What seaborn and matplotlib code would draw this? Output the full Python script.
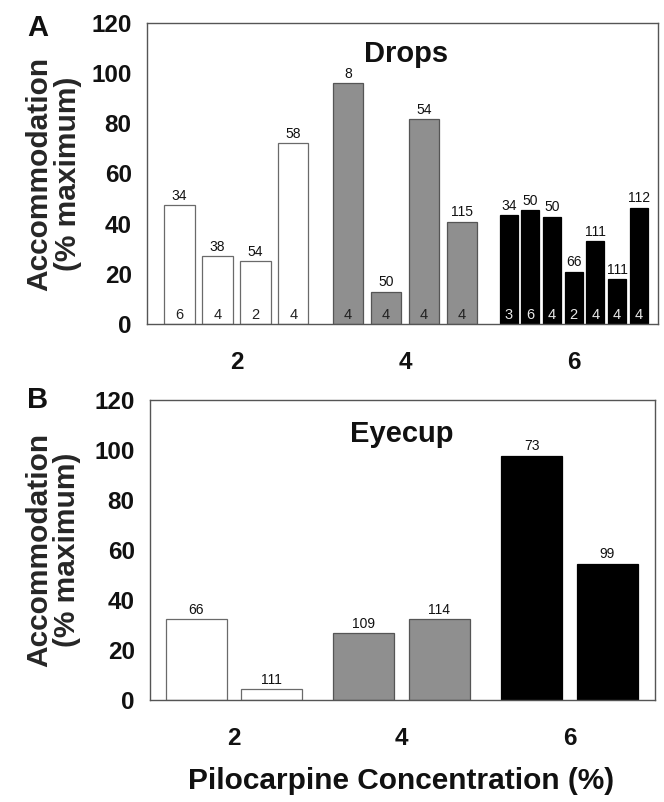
import numpy as np
import pandas as pd
import matplotlib
matplotlib.use("Agg")
import matplotlib.pyplot as plt
import seaborn as sns

# ---------------- data ----------------
drops_conc = [2, 2, 2, 2, 4, 4, 4, 4, 6, 6, 6, 6, 6, 6, 6]
drops_vals = [47.4, 27.2, 25.0, 72.0, 96.1, 12.9, 81.6, 40.8,
              43.4, 45.3, 42.8, 20.9, 32.9, 18.0, 46.4]
drops_n_top = ["34", "38", "54", "58", "8", "50", "54", "115",
               "34", "50", "50", "66", "111", "111", "112"]
drops_n_bottom = ["6", "4", "2", "4", "4", "4", "4", "4",
                  "3", "6", "4", "2", "4", "4", "4"]

eyecup_conc = [2, 2, 4, 4, 6, 6]
eyecup_vals = [32.3, 4.4, 26.7, 32.4, 97.7, 54.5]
eyecup_n = ["66", "111", "109", "114", "73", "99"]

conc_ticks = [2, 4, 6]
y_ticks = [0, 20, 40, 60, 80, 100, 120]

# ---------------- style ----------------
sns.set_style("white")
plt.rcParams["font.family"] = ["Liberation Sans", "DejaVu Sans"]

FILL = {2: "#ffffff", 4: "#8f8f8f", 6: "#000000"}
EDGE = {2: "#6a6a6a", 4: "#555555", 6: "#000000"}
NCOL = {2: "#222222", 4: "#222222", 6: "#e8e8e8"}
SPINE = "#555555"

fig = plt.figure(figsize=(6.64, 8.02), dpi=100)
axA = fig.add_axes([147 / 664, 1 - 324 / 802, 511 / 664, 301 / 802])
axB = fig.add_axes([150 / 664, 1 - 700 / 802, 505 / 664, 300 / 802])


def positions(conc_list, spacing_fn):
    conc = np.asarray(conc_list, dtype=float)
    pos = np.zeros_like(conc)
    for c in np.unique(conc):
        idx = np.where(conc == c)[0]
        k = len(idx)
        s = spacing_fn(k)
        pos[idx] = c + (np.arange(k) - (k - 1) / 2) * s
    return pos


def draw_panel(ax, conc, vals, spacing_fn, width_fn, top_labels, bottom_labels=None):
    pos = positions(conc, spacing_fn)
    df = pd.DataFrame({"conc": conc, "pos": pos, "val": vals})
    for c, sub in df.groupby("conc"):
        sns.barplot(data=sub, x="pos", y="val", native_scale=True, orient="x",
                    width=width_fn(len(sub)), color=FILL[c], edgecolor=EDGE[c],
                    linewidth=0.9, saturation=1, errorbar=None, ax=ax)
    for i, row in df.iterrows():
        ax.text(row["pos"], row["val"] + 0.9, top_labels[i], ha="center",
                va="bottom", fontsize=10, color="#111111")
        if bottom_labels is not None:
            ax.text(row["pos"], 2.0, bottom_labels[i], ha="center",
                    va="baseline", fontsize=10.5, color=NCOL[row["conc"]])
    ax.set_ylim(0, 120)
    ax.set_yticks(y_ticks)
    ax.set_xticks(conc_ticks)
    ax.set_xticklabels([str(t) for t in conc_ticks])
    ax.set_xlabel("")
    ax.set_ylabel("Accommodation\n(% maximum)", fontsize=21.5,
                  fontweight="bold", linespacing=1.0)
    for sp in ax.spines.values():
        sp.set_visible(True)
        sp.set_color(SPINE)
        sp.set_linewidth(1.0)
    ax.tick_params(axis="y", direction="out", length=3, width=0.8,
                   color=SPINE, pad=8, labelsize=17.5)
    ax.tick_params(axis="x", direction="out", length=4.5, width=0.9,
                   color="#333333", pad=15, labelsize=17.5)
    for lab in ax.get_xticklabels() + ax.get_yticklabels():
        lab.set_fontweight("bold")
        lab.set_color("#111111")


draw_panel(axA, drops_conc, drops_vals,
           lambda k: 0.45 if k <= 4 else 0.257,
           lambda k: 0.80 if k <= 4 else 0.83,
           drops_n_top, drops_n_bottom)
axA.set_xlim(0.94, 7.0)
axA.text(0.506, 0.871, "Drops", transform=axA.transAxes, ha="center",
         va="baseline", fontsize=21, fontweight="bold", color="#111111")
axA.yaxis.set_label_coords(-0.128, 0.5)

draw_panel(axB, eyecup_conc, eyecup_vals,
           lambda k: 0.9,
           lambda k: 0.81,
           eyecup_n)
axB.set_xlim(1.0, 7.02)
axB.text(0.499, 0.861, "Eyecup", transform=axB.transAxes, ha="center",
         va="baseline", fontsize=21, fontweight="bold", color="#111111")
axB.yaxis.set_label_coords(-0.136, 0.5)
axB.set_xlabel("Pilocarpine Concentration (%)", fontsize=21.5,
               fontweight="bold", color="#111111")
axB.xaxis.set_label_coords(0.497, -0.223)

fig.text(27 / 664, 1 - 14 / 802, "A", ha="left", va="top",
         fontsize=21, fontweight="bold", color="#111111")
fig.text(27 / 664, 1 - 386 / 802, "B", ha="left", va="top",
         fontsize=21, fontweight="bold", color="#111111")

fig.savefig("out.png", dpi=100)
